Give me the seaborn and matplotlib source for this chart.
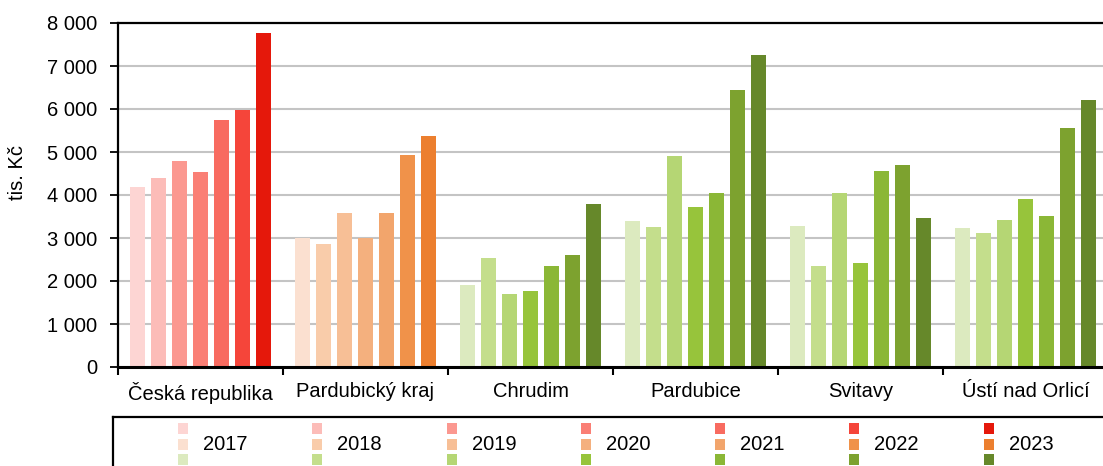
import matplotlib
matplotlib.use("Agg")
import matplotlib.pyplot as plt
import seaborn as sns
import pandas as pd
from matplotlib.patches import Rectangle
from matplotlib.ticker import FuncFormatter, MultipleLocator, FixedLocator

categories = ["Česká republika", "Pardubický kraj", "Chrudim", "Pardubice", "Svitavy", "Ústí nad Orlicí"]
years = ["2017", "2018", "2019", "2020", "2021", "2022", "2023"]

cz = [4190, 4400, 4790, 4535, 5737, 5984, 7775]
pk = [3005, 2870, 3570, 3010, 3590, 4940, 5380]
chrudim = [1900, 2525, 1690, 1760, 2340, 2595, 3780]
pardubice = [3405, 3265, 4915, 3730, 4055, 6445, 7260]
svitavy = [3290, 2360, 4055, 2430, 4565, 4705, 3475]
usti = [3240, 3105, 3430, 3915, 3520, 5565, 6215]

reds = ["#FDD5D3", "#FCBCB8", "#FB9890", "#FA7F75", "#F86B60", "#F5453A", "#E5180B"]
oranges = ["#FBE0D0", "#F9CCAA", "#F7BF96", "#F4B07E", "#F2A56C", "#F0924A", "#EC7F2F"]
greens = ["#DCEABF", "#C4DE8C", "#B5D674", "#97C43B", "#8BB736", "#7DA22F", "#66882A"]
group_palettes = [reds, oranges, greens, greens, greens, greens]

values = [cz, pk, chrudim, pardubice, svitavy, usti]
rows = []
for cat, vals in zip(categories, values):
    for y, v in zip(years, vals):
        rows.append({"region": cat, "year": y, "value": v})
df = pd.DataFrame(rows)

sns.set_style("white")
plt.rcParams["font.family"] = ["Liberation Sans", "DejaVu Sans"]
FS = 14.5

fig = plt.figure(figsize=(11.03, 4.66), dpi=100)
W, H = 1103, 466
ax = fig.add_axes([118 / W, 1 - 367 / H, 990 / W, 344 / H])

sns.barplot(data=df, x="region", y="value", hue="year", order=categories,
            hue_order=years, width=0.89, gap=0.26, linewidth=0, legend=False,
            ax=ax, errorbar=None)

for hi, cont in enumerate(ax.containers):
    for ci, bar in enumerate(cont):
        bar.set_facecolor(group_palettes[ci][hi])
        bar.set_edgecolor("none")

ax.set_xlim(-0.5, 5.5)
ax.set_ylim(0, 8000)
ax.yaxis.set_major_locator(MultipleLocator(1000))
ax.yaxis.set_major_formatter(FuncFormatter(lambda v, p: f"{int(v):,}".replace(",", " ")))
ax.grid(axis="y", color="#C4C4C4", linewidth=1.5)
ax.set_axisbelow(True)
for side in ["left", "bottom", "top"]:
    ax.spines[side].set_visible(True)
    ax.spines[side].set_color("black")
    ax.spines[side].set_linewidth(1.6)
ax.spines["bottom"].set_linewidth(2.2)
ax.spines["right"].set_visible(False)

ax.tick_params(axis="y", which="major", left=True, length=6, width=1.3, color="black",
               labelsize=FS, pad=9, labelcolor="black")
ax.tick_params(axis="x", which="major", bottom=False, length=0, labelsize=FS, pad=11,
               labelcolor="black")
ax.xaxis.set_minor_locator(FixedLocator([i - 0.5 for i in range(len(categories) + 1)]))
ax.tick_params(axis="x", which="minor", bottom=True, length=6, width=1.5, color="black")
ax.set_xlabel("")
ax.set_ylabel("tis. Kč", fontsize=FS, color="black")
ax.yaxis.set_label_coords(-0.092, 0.564)

# Legend box
lx0 = 113
lax = fig.add_axes([lx0 / W, -10 / H, (1113 - lx0) / W, (476 - 417) / H])
lax.set_xlim(lx0, 1113)
lax.set_ylim(476, 417)
lax.set_xticks([])
lax.set_yticks([])
for s in lax.spines.values():
    s.set_color("black")
    s.set_linewidth(1.6)
row_pals = [reds, oranges, greens]
row_y = [423, 439, 454]
for i, yr in enumerate(years):
    mx = 178 + i * 134.3
    for r, pal in enumerate(row_pals):
        lax.add_patch(Rectangle((mx, row_y[r]), 10, 11, facecolor=pal[i], edgecolor="none"))
    lax.text(mx + 25, 445, yr, fontsize=FS, va="center", ha="left", color="black")

fig.savefig("out.png", dpi=100)
